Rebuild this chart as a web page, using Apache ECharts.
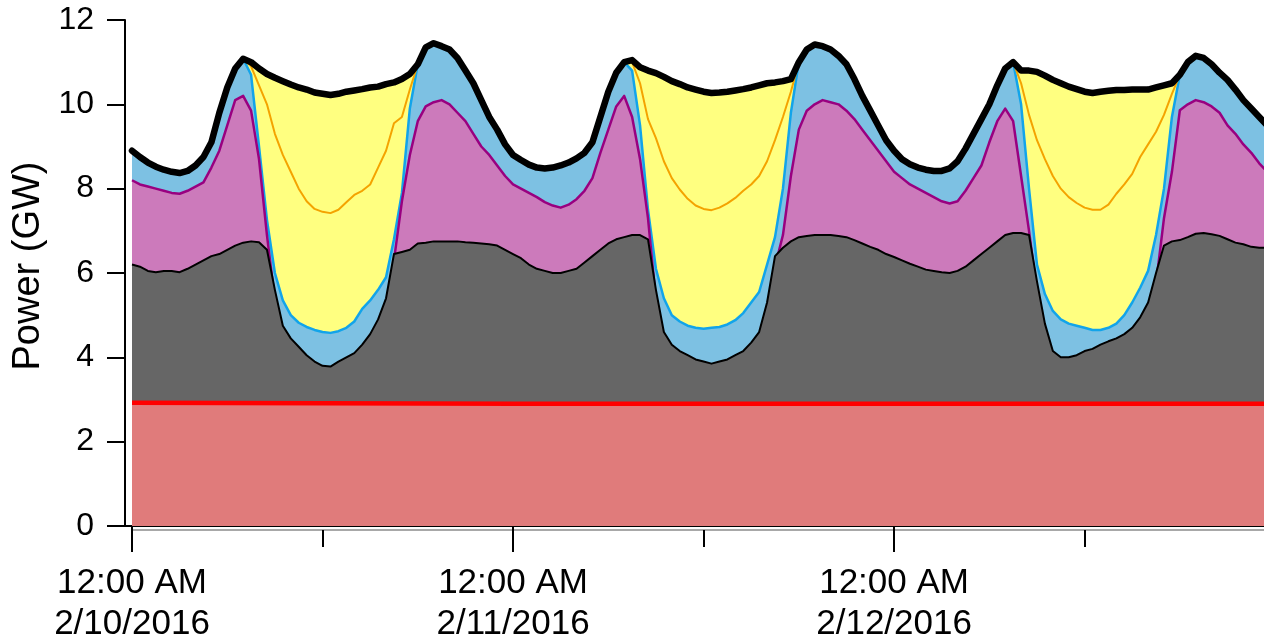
<!DOCTYPE html>
<html>
<head>
<meta charset="utf-8">
<script src="https://cdn.jsdelivr.net/npm/echarts@6/dist/echarts.min.js"></script>
<style>
html,body{margin:0;padding:0;background:#fff;}
#chart{width:1264px;height:642px;}
</style>
</head>
<body>
<div id="chart"></div>
<script>
// Sampling grid: hours since 12:00 AM 2/10/2016, every half hour
const HOURS = Array.from({length: 144}, (_, i) => i / 2);

// Total load (thick black top line)
const TOTAL = [
8.9,8.75,8.62,8.52,8.45,8.4,8.37,8.42,8.55,8.75,9.1,9.8,10.4,10.85,11.08,11.0,
10.85,10.72,10.63,10.55,10.47,10.4,10.35,10.28,10.25,10.22,10.25,10.3,10.33,10.36,10.4,10.42,
10.48,10.52,10.6,10.72,10.95,11.35,11.45,11.38,11.3,11.1,10.8,10.5,10.1,9.7,9.4,9.05,
8.8,8.68,8.57,8.5,8.48,8.5,8.55,8.62,8.72,8.85,9.1,9.7,10.3,10.75,11.0,11.05,
10.88,10.8,10.74,10.65,10.55,10.48,10.4,10.35,10.3,10.27,10.28,10.3,10.33,10.36,10.4,10.45,
10.5,10.52,10.55,10.6,11.0,11.3,11.42,11.38,11.3,11.15,10.95,10.6,10.2,9.85,9.5,9.15,
8.9,8.7,8.58,8.5,8.45,8.42,8.42,8.48,8.65,8.95,9.3,9.65,10.0,10.45,10.85,11.0,
10.8,10.8,10.77,10.68,10.58,10.5,10.42,10.36,10.3,10.27,10.3,10.32,10.34,10.34,10.35,10.35,
10.35,10.4,10.45,10.5,10.7,11.0,11.15,11.1,10.95,10.75,10.58,10.35,10.1,9.9,9.7,9.5
];

// Load minus solar (blue line, light-blue fill)
const NET = [
8.9,8.75,8.62,8.52,8.45,8.4,8.37,8.42,8.55,8.75,9.1,9.8,10.4,10.85,11.08,10.7,
9.0,7.26,6.0,5.35,5.0,4.82,4.72,4.65,4.6,4.58,4.62,4.7,4.85,5.15,5.35,5.6,
5.9,6.8,7.9,9.9,10.95,11.35,11.45,11.38,11.3,11.1,10.8,10.5,10.1,9.7,9.4,9.05,
8.8,8.68,8.57,8.5,8.48,8.5,8.55,8.62,8.72,8.85,9.1,9.7,10.3,10.75,11.0,10.8,
9.5,7.5,6.1,5.4,5.0,4.85,4.75,4.7,4.68,4.7,4.72,4.78,4.88,5.05,5.3,5.55,
6.2,6.85,8.0,9.8,11.0,11.3,11.42,11.38,11.3,11.15,10.95,10.6,10.2,9.85,9.5,9.15,
8.9,8.7,8.58,8.5,8.45,8.42,8.42,8.48,8.65,8.95,9.3,9.65,10.0,10.45,10.85,11.0,
10.0,8.0,6.2,5.5,5.1,4.9,4.8,4.75,4.7,4.65,4.65,4.7,4.8,5.0,5.3,5.65,
6.05,6.9,8.0,9.7,10.7,11.0,11.15,11.1,10.95,10.75,10.58,10.35,10.1,9.9,9.7,9.5
];

// Load minus rooftop solar (orange line)
const ORANGE = [
8.9,8.75,8.62,8.52,8.45,8.4,8.37,8.42,8.55,8.75,9.1,9.8,10.4,10.85,11.08,10.9,
10.45,10.0,9.3,8.8,8.4,8.0,7.7,7.52,7.45,7.42,7.5,7.68,7.85,7.95,8.1,8.5,
8.9,9.55,9.7,10.35,10.95,11.35,11.45,11.38,11.3,11.1,10.8,10.5,10.1,9.7,9.4,9.05,
8.8,8.68,8.57,8.5,8.48,8.5,8.55,8.62,8.72,8.85,9.1,9.7,10.3,10.75,11.0,11.0,
10.5,9.65,9.2,8.65,8.25,7.98,7.76,7.6,7.52,7.49,7.55,7.65,7.78,7.95,8.1,8.3,
8.65,9.15,9.7,10.3,11.0,11.3,11.42,11.38,11.3,11.15,10.95,10.6,10.2,9.85,9.5,9.15,
8.9,8.7,8.58,8.5,8.45,8.42,8.42,8.48,8.65,8.95,9.3,9.65,10.0,10.45,10.85,11.0,
10.5,9.75,9.15,8.7,8.3,8.0,7.8,7.66,7.55,7.5,7.5,7.62,7.88,8.1,8.35,8.75,
9.05,9.35,9.75,10.25,10.7,11.0,11.15,11.1,10.95,10.75,10.58,10.35,10.1,9.9,9.7,9.5
];

// Magenta layer
const MAGENTA = [
8.2,8.1,8.05,8.0,7.95,7.9,7.88,7.95,8.05,8.15,8.5,8.9,9.5,10.1,10.2,9.85,
8.7,6.9,5.35,4.5,4.2,4.0,3.8,3.65,3.55,3.53,3.65,3.75,3.85,4.05,4.3,4.65,
5.15,6.3,7.7,8.8,9.6,9.95,10.05,10.1,10.0,9.8,9.6,9.3,9.0,8.8,8.55,8.3,
8.1,8.0,7.9,7.8,7.68,7.6,7.55,7.62,7.75,7.95,8.25,8.85,9.4,9.95,10.2,9.7,
8.7,7.3,5.35,4.35,4.05,3.9,3.8,3.7,3.65,3.6,3.65,3.7,3.8,3.9,4.1,4.35,
5.05,6.15,6.9,8.3,9.4,9.85,10.0,10.1,10.05,10.0,9.85,9.65,9.4,9.15,8.9,8.65,
8.4,8.25,8.1,8.0,7.9,7.8,7.7,7.65,7.7,7.95,8.25,8.55,9.1,9.6,9.9,9.6,
8.3,7.0,5.55,4.55,3.9,3.75,3.75,3.8,3.9,3.95,4.05,4.13,4.2,4.3,4.45,4.7,
5.05,5.75,7.3,8.4,9.86,10.0,10.1,10.05,9.95,9.8,9.5,9.3,9.05,8.85,8.6,8.4
];

// Gray layer (thin black line)
const GRAY = [
6.2,6.15,6.05,6.02,6.05,6.05,6.02,6.1,6.2,6.3,6.4,6.45,6.55,6.65,6.72,6.75,
6.73,6.55,5.6,4.75,4.45,4.25,4.05,3.9,3.8,3.78,3.9,4.0,4.1,4.3,4.55,4.9,
5.4,6.45,6.5,6.55,6.7,6.72,6.75,6.75,6.75,6.75,6.73,6.72,6.7,6.68,6.65,6.55,
6.45,6.35,6.2,6.1,6.05,6.0,6.0,6.05,6.1,6.25,6.4,6.55,6.7,6.8,6.85,6.9,
6.9,6.8,5.6,4.6,4.3,4.15,4.05,3.95,3.9,3.85,3.9,3.95,4.05,4.15,4.35,4.6,
5.3,6.4,6.6,6.75,6.85,6.88,6.9,6.9,6.9,6.88,6.85,6.78,6.7,6.62,6.55,6.45,
6.38,6.3,6.22,6.15,6.08,6.05,6.02,6.0,6.05,6.15,6.3,6.45,6.6,6.75,6.9,6.95,
6.95,6.9,5.8,4.8,4.15,4.0,4.0,4.05,4.15,4.2,4.3,4.38,4.45,4.55,4.7,4.95,
5.3,6.0,6.65,6.75,6.78,6.85,6.93,6.95,6.92,6.88,6.8,6.72,6.68,6.62,6.6,6.6
];

// Red base layer
const RED_HOURS = [0, 24, 48, 71.5];
const RED = [2.92, 2.9, 2.9, 2.9];

// Axis ticks and labels
const TICK_HOURS = [0, 24, 48];
const HALF_DAY_TICKS = [0, 12, 24, 36, 48, 60];
const TICK_LABELS = ['12:00 AM\n2/10/2016', '12:00 AM\n2/11/2016', '12:00 AM\n2/12/2016'];
const Y_TITLE = 'Power (GW)';

const pair = (xs, ys) => xs.map((x, i) => [x, ys[i]]);
const FONT = "'Liberation Sans', Arial, sans-serif";
const X_MAX = 71.3;

const chart = echarts.init(document.getElementById('chart'), null, {renderer: 'canvas'});

let zc = 2;
function area(name, data, fill, lineColor, lineWidth) {
  return {
    name, type: 'line', data, symbol: 'none', smooth: false, z: zc++,
    xAxisIndex: 0, yAxisIndex: 0,
    areaStyle: {color: fill, opacity: 1},
    lineStyle: lineWidth ? {color: lineColor, width: lineWidth, join: 'round'} : {width: 0, opacity: 0},
    emphasis: {disabled: true}, silent: true, animation: false
  };
}
function line(name, data, color, width) {
  return {
    name, type: 'line', data, symbol: 'none', smooth: false, z: zc++,
    xAxisIndex: 0, yAxisIndex: 0,
    lineStyle: {color, width, join: 'round', cap: 'round'},
    emphasis: {disabled: true}, silent: true, animation: false
  };
}

chart.setOption({
  animation: false,
  backgroundColor: '#ffffff',
  grid: [
    {left: 132, right: 0, top: 20, bottom: 116, containLabel: false, outerBoundsMode: 'none'},
    {left: 125, right: 0, top: 20, bottom: 116, containLabel: false, outerBoundsMode: 'none'}
  ],
  xAxis: [{
    gridIndex: 0, type: 'value', min: 0, max: X_MAX, interval: 24,
    axisLine: {show: false},
    axisTick: {show: true, length: 26, customValues: TICK_HOURS, lineStyle: {color: '#000', width: 2}},
    axisLabel: {
      show: true, margin: 37, fontSize: 35, lineHeight: 41, color: '#000', fontFamily: FONT,
      customValues: TICK_HOURS,
      formatter: v => { const k = TICK_HOURS.indexOf(v); return k >= 0 ? TICK_LABELS[k] : ''; }
    },
    splitLine: {show: false}
  }, {
    gridIndex: 0, type: 'value', min: 0, max: X_MAX, interval: 12, position: 'bottom', offset: 4,
    axisLine: {show: true, onZero: false, lineStyle: {color: '#a8a8a8', width: 2}},
    axisTick: {show: true, length: 17, customValues: HALF_DAY_TICKS, lineStyle: {color: '#000', width: 2}},
    axisLabel: {show: false},
    splitLine: {show: false}
  }, {
    gridIndex: 1, type: 'value', min: 0, max: X_MAX, position: 'bottom',
    axisLine: {show: true, onZero: false, lineStyle: {color: '#000', width: 2}},
    axisTick: {show: false}, axisLabel: {show: false}, splitLine: {show: false}
  }],
  yAxis: [{
    gridIndex: 0, type: 'value', min: 0, max: 12, interval: 2, show: false
  }, {
    gridIndex: 1, type: 'value', min: 0, max: 12, interval: 2,
    name: Y_TITLE, nameLocation: 'middle', nameRotate: 90, nameGap: 73,
    nameTextStyle: {fontSize: 38, color: '#000', fontFamily: FONT, padding: [0, 0, 0, 14]},
    axisLine: {show: true, onZero: false, lineStyle: {color: '#000', width: 2}},
    axisTick: {show: true, length: 18, lineStyle: {color: '#000', width: 2}},
    axisLabel: {show: true, margin: 31, fontSize: 32, color: '#000', fontFamily: FONT},
    splitLine: {show: false}
  }],
  series: [
    area('Total (solar)', pair(HOURS, TOTAL), '#ffff80', null, 0),
    area('Net load', pair(HOURS, NET), '#7dc1e3', '#12a4ea', 2.5),
    area('Magenta', pair(HOURS, MAGENTA), '#cc7abb', '#990080', 2.5),
    area('Gray', pair(HOURS, GRAY), '#666666', '#000000', 2),
    area('Red', pair(RED_HOURS, RED), '#e07b7b', '#ff0000', 4.5),
    line('Orange', pair(HOURS, ORANGE), '#f4a300', 2),
    line('Total', pair(HOURS, TOTAL), '#000000', 6.5)
  ]
});
</script>
</body>
</html>
